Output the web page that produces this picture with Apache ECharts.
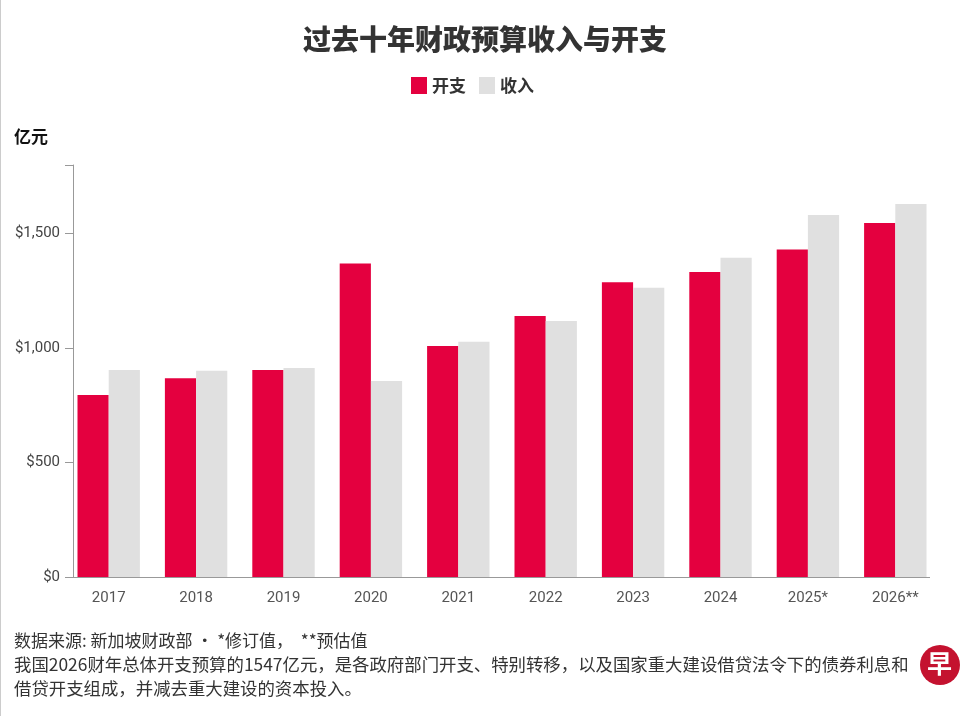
<!DOCTYPE html>
<html><head><meta charset="utf-8">
<script src="https://cdn.jsdelivr.net/npm/echarts@6/dist/echarts.min.js"></script>
<style>html,body{margin:0;padding:0;background:#fff}#c{width:970px;height:716px}</style>
</head><body><div id="c"></div>
<script>
var categories = ['2017','2018','2019','2020','2021','2022','2023','2024','2025*','2026**'];
var expenditure = [795, 868, 904, 1370, 1009, 1140, 1288, 1333, 1431, 1547];
var revenue = [904, 901, 913, 856, 1028, 1118, 1264, 1395, 1582, 1630];
var yTicks = [0, 500, 1000, 1500];

var chart = echarts.init(document.getElementById('c'));
var cjk = '"Noto Sans CJK SC", sans-serif';
chart.setOption({
  backgroundColor: '#fff',
  animation: false,
  title: {
    text: '过去十年财政预算收入与开支',
    left: 'center', top: 20,
    textStyle: {fontFamily: cjk, fontSize: 28, fontWeight: 900, color: '#333'}
  },
  legend: {
    top: 72, left: 406, itemWidth: 16, itemHeight: 17, itemGap: 13,
    icon: 'rect',
    textStyle: {fontFamily: cjk, fontSize: 17, fontWeight: 'bold', color: '#333'},
    data: ['开支', '收入']
  },
  grid: {left: 65, right: 31, top: 165, bottom: 139},
  xAxis: {
    type: 'category', data: categories,
    axisLine: {show: false},
    axisTick: {alignWithLabel: true, lineStyle: {color: '#999'}},
    axisLabel: {fontFamily: 'Roboto', fontSize: 15, color: '#555', margin: 14}
  },
  yAxis: {
    type: 'value', min: 0, max: 1800, interval: 500, offset: -8,
    axisLine: {show: true, lineStyle: {color: '#999'}},
    axisTick: {show: true, length: 8, lineStyle: {color: '#999'}},
    splitLine: {show: false},
    axisLabel: {
      fontFamily: 'Roboto', fontSize: 15, color: '#444', margin: 13,
      formatter: function (v) { return yTicks.indexOf(v) >= 0 ? '$' + v.toLocaleString('en-US') : ''; }
    }
  },
  series: [
    {name: '开支', type: 'bar', data: expenditure, barGap: '0%', barCategoryGap: '28.6%',
      itemStyle: {color: '#e4003f'}},
    {name: '收入', type: 'bar', data: revenue,
      itemStyle: {color: '#e0e0e0'}}
  ],
  graphic: [
    {type: 'rect', left: 0, top: 0, shape: {width: 1, height: 716}, style: {fill: '#ccc'}},
    {type: 'rect', left: 73, top: 577, shape: {width: 857, height: 1}, style: {fill: '#999'}},
    {type: 'text', left: 14, top: 128, style: {text: '亿元', font: 'bold 17px "Noto Sans CJK SC"', fill: '#111'}},
    {type: 'text', left: 14, top: 632, style: {text: '数据来源: 新加坡财政部 • *修订值，  **预估值', font: '17px "Noto Sans CJK SC"', fill: '#333'}},
    {type: 'text', left: 14, top: 656, style: {text: '我国2026财年总体开支预算的1547亿元，是各政府部门开支、特别转移，以及国家重大建设借贷法令下的债券利息和', font: '17.4px "Noto Sans CJK SC"', fill: '#333'}},
    {type: 'text', left: 14, top: 680, style: {text: '借贷开支组成，并减去重大建设的资本投入。', font: '17.4px "Noto Sans CJK SC"', fill: '#333'}},
    {type: 'circle', shape: {cx: 940, cy: 665, r: 20}, style: {fill: '#c4122f'}},
    {type: 'text', left: 927, top: 651, style: {text: '早', font: 'bold 25px "Noto Sans CJK SC"', fill: '#fff'}}
  ]
});
</script></body></html>
